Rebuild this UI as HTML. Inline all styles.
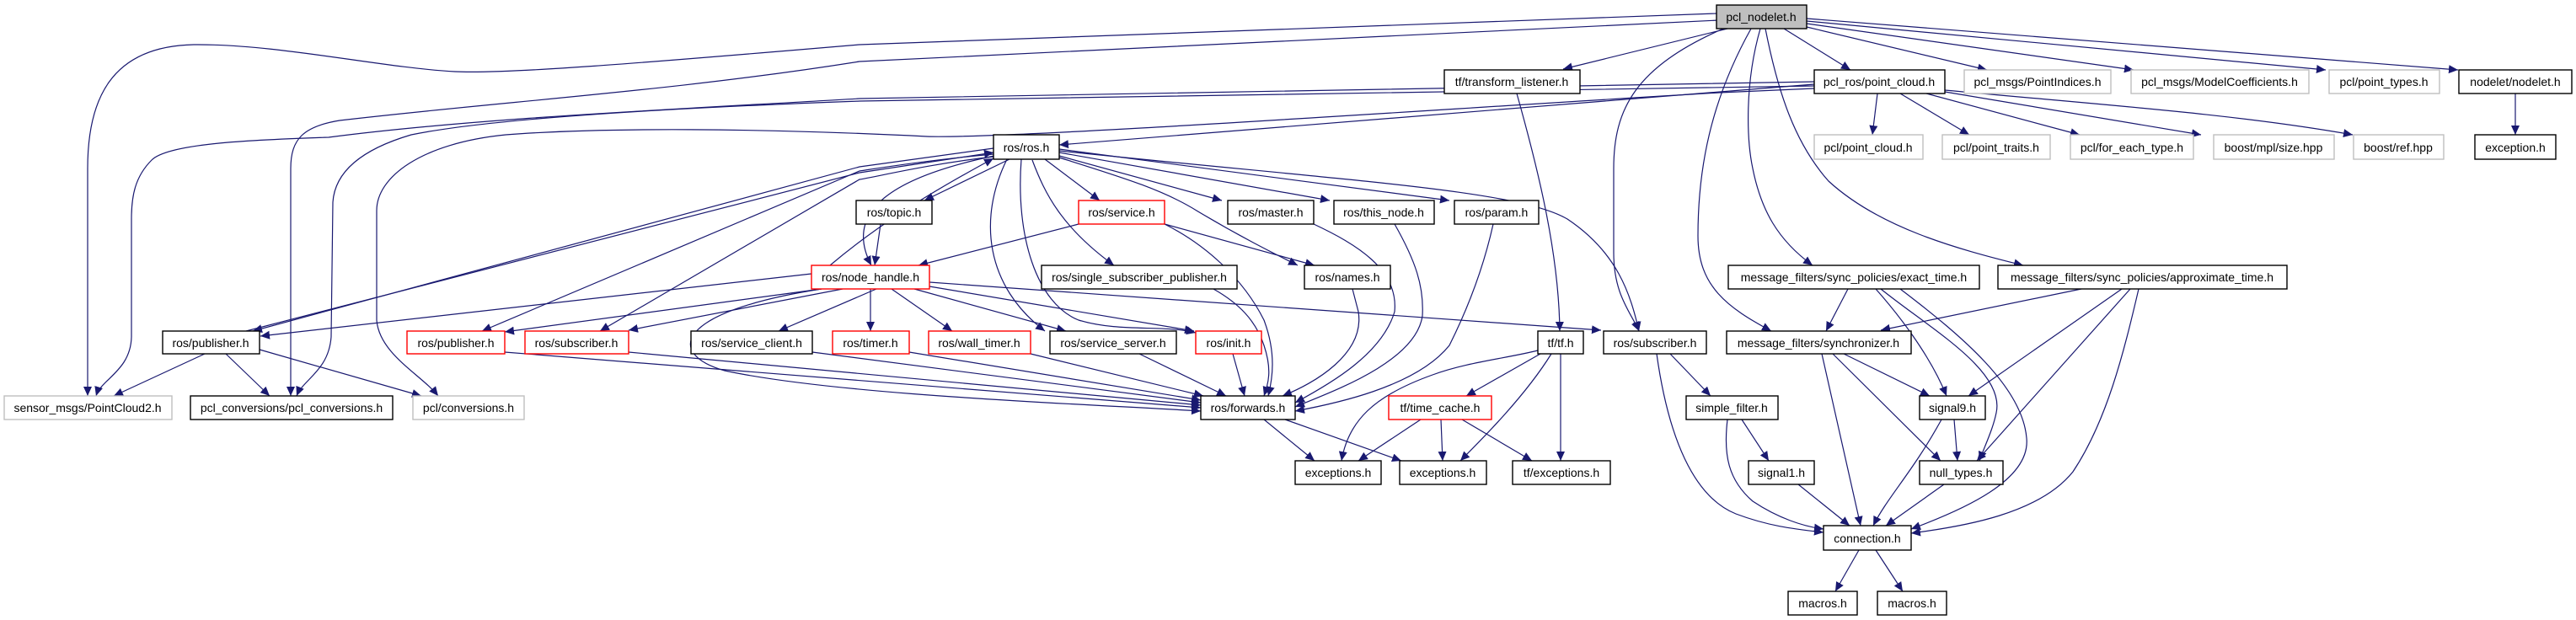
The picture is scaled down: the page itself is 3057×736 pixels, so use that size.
<!DOCTYPE html>
<html><head><meta charset="utf-8"><style>
html,body{margin:0;padding:0;background:#fff;}
svg{display:block;}
text{font-family:"Liberation Sans",sans-serif;font-size:14px;text-anchor:middle;fill:#000;}
.n{fill:#fff;stroke:#000;stroke-width:1.4;}
.g{fill:#fff;stroke:#bfbfbf;stroke-width:1.4;}
.r{fill:#fff;stroke:#ff0000;stroke-width:1.4;}
.e{fill:none;stroke:#191970;stroke-width:1.2;marker-end:url(#a);}
</style></head><body>
<svg width="3057" height="736" viewBox="0 0 3057 736" xmlns="http://www.w3.org/2000/svg">
<defs><marker id="a" markerUnits="userSpaceOnUse" markerWidth="12" markerHeight="12" refX="11" refY="5" orient="auto"><path d="M0,0 L11,5 L0,10 z" fill="#191970"/></marker></defs>
<g>
<!-- pcl_nodelet edges -->
<path class="e" d="M2037,16 L1020,53 C760,75 600,88 540,85 C450,80 330,52 230,53 C130,55 104,120 104,200 L104,470"/>
<path class="e" d="M2040,24 L1020,73 C800,108 600,120 403,143 C360,150 345,165 345,200 L345,470"/>
<path class="e" d="M2050,34 L1855,82"/>
<path class="e" d="M2117,34 L2196,83"/>
<path class="e" d="M2144,32 L2358,83"/>
<path class="e" d="M2144,28 L2532,83"/>
<path class="e" d="M2144,25 L2760,83"/>
<path class="e" d="M2144,22 L2917,83"/>
<path class="e" d="M2045,34 C1940,80 1915,130 1915,200 L1915,300 C1915,350 1935,370 1945,393"/>
<path class="e" d="M2078,34 C2030,120 2015,200 2015,280 C2015,340 2050,365 2102,393"/>
<path class="e" d="M2089,34 C2070,100 2073,167 2080,200 C2090,250 2110,285 2151,315"/>
<path class="e" d="M2095,34 C2110,110 2130,170 2170,215 C2230,270 2320,295 2401,315"/>
<!-- pcl_ros/point_cloud -->
<path class="e" d="M2228,111 L2222,160"/>
<path class="e" d="M2255,111 L2337,160"/>
<path class="e" d="M2286,111 L2468,160"/>
<path class="e" d="M2308,109 L2612,160"/>
<path class="e" d="M2308,107 C2500,125 2650,135 2792,160"/>
<path class="e" d="M2153,100 L1257,172"/>
<path class="e" d="M2153,97 L1020,117 C800,130 566,140 390,163 C300,166 200,170 180,190 C160,210 156,233 156,260 L156,400 C155,440 120,450 114,470"/>
<path class="e" d="M2153,102 L1020,120 C800,128 585,140 488,160 C420,180 397,210 395,240 L393,400 C390,440 360,450 352,470"/>
<path class="e" d="M2153,105 L2040,110 C1700,130 1200,165 1100,162 C900,152 716,151 600,160 C500,170 447,210 447,250 L447,380 C450,420 500,445 520,470"/>
<path class="e" d="M2985,111 L2985,160"/>
<path class="e" d="M1800,111 C1825,200 1850,300 1851,393"/>
<!-- ros/ros.h -->
<path class="e" d="M1198,189 L1097,238"/>
<path class="e" d="M1240,189 L1305,238"/>
<path class="e" d="M1257,185 L1450,238"/>
<path class="e" d="M1257,181 L1578,238"/>
<path class="e" d="M1257,177 L1720,238"/>
<path class="e" d="M1257,187 C1330,210 1380,225 1420,250 C1470,280 1510,300 1540,315"/>
<path class="e" d="M1225,190 C1240,230 1260,270 1322,315"/>
<path class="e" d="M1257,179 C1600,215 1800,225 1860,260 C1920,300 1935,350 1945,393"/>
<path class="e" d="M1180,185 C1060,210 1000,250 1034,315"/>
<path class="e" d="M1195,189 C1160,260 1170,340 1240,393"/>
<path class="e" d="M1212,189 C1205,280 1230,360 1280,380 C1330,395 1380,385 1419,395"/>
<path class="e" d="M1179,176 L1020,198 L300,393"/>
<path class="e" d="M292,393 L1020,205 L1179,181"/>
<path class="e" d="M1179,183 C1100,190 1040,200 1020,203 L572,393"/>
<path class="e" d="M1179,186 C1100,195 1040,210 1020,213 L712,393"/>
<path class="e" d="M985,315 C1050,260 1120,220 1179,188"/>
<!-- node_handle -->
<path class="e" d="M963,325 L309,399"/>
<path class="e" d="M975,343 L599,394"/>
<path class="e" d="M1000,343 L746,392"/>
<path class="e" d="M1040,343 L924,393"/>
<path class="e" d="M1033,343 L1033,393"/>
<path class="e" d="M1058,343 L1130,393"/>
<path class="e" d="M1085,343 L1265,393"/>
<path class="e" d="M1103,340 L1417,393"/>
<path class="e" d="M1103,335 L1900,392"/>
<path class="e" d="M975,343 C800,370 790,420 860,440 C1000,470 1300,480 1425,488"/>
<path class="e" d="M1045,266 L1038,315"/>
<path class="e" d="M1280,266 L1090,315"/>
<path class="e" d="M1382,266 L1560,315"/>
<path class="e" d="M1382,266 C1430,290 1475,330 1500,380 C1515,420 1510,450 1505,470"/>
<path class="e" d="M1559,266 C1610,290 1660,320 1655,370 C1640,420 1580,455 1537,478"/>
<path class="e" d="M1655,266 C1680,310 1690,340 1688,375 C1680,430 1580,465 1537,483"/>
<path class="e" d="M1772,266 C1760,320 1740,370 1720,410 C1680,460 1580,480 1537,488"/>
<path class="e" d="M1605,343 L1612,370 C1620,420 1560,455 1522,470"/>
<path class="e" d="M1440,343 C1470,360 1490,380 1500,410 C1510,440 1505,455 1500,470"/>
<!-- lower left -->
<path class="e" d="M243,420 L135,470"/>
<path class="e" d="M268,420 L320,470"/>
<path class="e" d="M308,415 L500,470"/>
<path class="e" d="M599,418 L1425,484"/>
<path class="e" d="M746,418 L1425,481"/>
<path class="e" d="M964,418 L1425,478"/>
<path class="e" d="M1079,418 L1425,475"/>
<path class="e" d="M1223,420 L1428,470"/>
<path class="e" d="M1352,420 L1455,470"/>
<path class="e" d="M1463,420 L1477,470"/>
<path class="e" d="M1500,498 L1560,547"/>
<path class="e" d="M1525,498 L1663,547"/>
<path class="e" d="M1825,416 C1790,425 1740,430 1700,445 C1630,470 1600,500 1592,547"/>
<path class="e" d="M1828,420 L1740,470"/>
<path class="e" d="M1841,420 C1810,470 1760,520 1733,547"/>
<path class="e" d="M1852,420 L1852,547"/>
<path class="e" d="M1686,498 L1612,547"/>
<path class="e" d="M1710,498 L1712,547"/>
<path class="e" d="M1735,498 L1818,547"/>
<!-- right lower -->
<path class="e" d="M1982,420 L2030,470"/>
<path class="e" d="M1966,420 C1980,520 2010,590 2060,610 C2100,625 2130,628 2164,632"/>
<path class="e" d="M2067,498 L2099,547"/>
<path class="e" d="M2050,498 C2045,540 2051,570 2080,595 C2110,615 2140,625 2164,628"/>
<path class="e" d="M2134,575 L2195,624"/>
<path class="e" d="M2193,343 L2167,393"/>
<path class="e" d="M2470,343 L2232,392"/>
<path class="e" d="M2226,343 C2250,370 2290,420 2310,470"/>
<path class="e" d="M2232,343 C2290,390 2380,440 2369,490 C2365,510 2355,530 2349,547"/>
<path class="e" d="M2255,343 C2330,400 2400,460 2405,520 C2410,570 2330,605 2268,628"/>
<path class="e" d="M2518,343 L2336,470"/>
<path class="e" d="M2528,343 L2346,547"/>
<path class="e" d="M2538,343 C2520,420 2500,500 2460,560 C2420,610 2330,625 2268,633"/>
<path class="e" d="M2188,420 L2290,470"/>
<path class="e" d="M2175,420 L2303,547"/>
<path class="e" d="M2162,420 L2208,624"/>
<path class="e" d="M2319,498 L2323,547"/>
<path class="e" d="M2304,498 C2270,560 2240,590 2223,624"/>
<path class="e" d="M2307,575 L2238,624"/>
<path class="e" d="M2206,653 L2178,702"/>
<path class="e" d="M2226,653 L2258,702"/>
</g>
<g>
<rect x="2037" y="6" width="107" height="28" fill="#bfbfbf" stroke="#000" stroke-width="1.4"/><text x="2090" y="25">pcl_nodelet.h</text>
<rect class="n" x="2153" y="83" width="155" height="28"/><text x="2230" y="102">pcl_ros/point_cloud.h</text>
<rect class="g" x="2331" y="83" width="174" height="28"/><text x="2418" y="102">pcl_msgs/PointIndices.h</text>
<rect class="g" x="2529" y="83" width="211" height="28"/><text x="2634" y="102">pcl_msgs/ModelCoefficients.h</text>
<rect class="g" x="2764" y="83" width="131" height="28"/><text x="2829" y="102">pcl/point_types.h</text>
<rect class="n" x="2918" y="83" width="134" height="28"/><text x="2985" y="102">nodelet/nodelet.h</text>
<rect class="n" x="1714" y="83" width="161" height="28"/><text x="1794" y="102">tf/transform_listener.h</text>
<rect class="g" x="2153" y="160" width="129" height="29"/><text x="2217" y="180">pcl/point_cloud.h</text>
<rect class="g" x="2305" y="160" width="128" height="29"/><text x="2369" y="180">pcl/point_traits.h</text>
<rect class="g" x="2457" y="160" width="146" height="29"/><text x="2530" y="180">pcl/for_each_type.h</text>
<rect class="g" x="2627" y="160" width="143" height="29"/><text x="2698" y="180">boost/mpl/size.hpp</text>
<rect class="g" x="2793" y="160" width="107" height="29"/><text x="2846" y="180">boost/ref.hpp</text>
<rect class="n" x="2937" y="160" width="96" height="29"/><text x="2985" y="180">exception.h</text>
<rect class="n" x="1179" y="160" width="78" height="29"/><text x="1218" y="180">ros/ros.h</text>
<rect class="n" x="1016" y="238" width="90" height="28"/><text x="1061" y="257">ros/topic.h</text>
<rect class="r" x="1280" y="238" width="102" height="28"/><text x="1331" y="257">ros/service.h</text>
<rect class="n" x="1457" y="238" width="102" height="28"/><text x="1508" y="257">ros/master.h</text>
<rect class="n" x="1583" y="238" width="119" height="28"/><text x="1642" y="257">ros/this_node.h</text>
<rect class="n" x="1726" y="238" width="100" height="28"/><text x="1776" y="257">ros/param.h</text>
<rect class="n" x="2051" y="315" width="298" height="28"/><text x="2200" y="334">message_filters/sync_policies/exact_time.h</text>
<rect class="n" x="2371" y="315" width="343" height="28"/><text x="2542" y="334">message_filters/sync_policies/approximate_time.h</text>
<rect class="r" x="963" y="315" width="140" height="28"/><text x="1033" y="334">ros/node_handle.h</text>
<rect class="n" x="1236" y="315" width="232" height="28"/><text x="1352" y="334">ros/single_subscriber_publisher.h</text>
<rect class="n" x="1548" y="315" width="102" height="28"/><text x="1599" y="334">ros/names.h</text>
<rect class="n" x="193" y="393" width="115" height="27"/><text x="250" y="412">ros/publisher.h</text>
<rect class="r" x="483" y="393" width="116" height="27"/><text x="541" y="412">ros/publisher.h</text>
<rect class="r" x="623" y="393" width="123" height="27"/><text x="684" y="412">ros/subscriber.h</text>
<rect class="n" x="820" y="393" width="144" height="27"/><text x="892" y="412">ros/service_client.h</text>
<rect class="r" x="988" y="393" width="91" height="27"/><text x="1033" y="412">ros/timer.h</text>
<rect class="r" x="1102" y="393" width="121" height="27"/><text x="1162" y="412">ros/wall_timer.h</text>
<rect class="n" x="1246" y="393" width="150" height="27"/><text x="1321" y="412">ros/service_server.h</text>
<rect class="r" x="1419" y="393" width="78" height="27"/><text x="1458" y="412">ros/init.h</text>
<rect class="n" x="1825" y="393" width="54" height="27"/><text x="1852" y="412">tf/tf.h</text>
<rect class="n" x="1903" y="393" width="122" height="27"/><text x="1964" y="412">ros/subscriber.h</text>
<rect class="n" x="2049" y="393" width="219" height="27"/><text x="2158" y="412">message_filters/synchronizer.h</text>
<rect class="g" x="5" y="470" width="199" height="28"/><text x="104" y="489">sensor_msgs/PointCloud2.h</text>
<rect class="n" x="226" y="470" width="240" height="28"/><text x="346" y="489">pcl_conversions/pcl_conversions.h</text>
<rect class="g" x="490" y="470" width="132" height="28"/><text x="556" y="489">pcl/conversions.h</text>
<rect class="n" x="1425" y="470" width="112" height="28"/><text x="1481" y="489">ros/forwards.h</text>
<rect class="r" x="1648" y="470" width="122" height="28"/><text x="1709" y="489">tf/time_cache.h</text>
<rect class="n" x="2001" y="470" width="109" height="28"/><text x="2055" y="489">simple_filter.h</text>
<rect class="n" x="2278" y="470" width="78" height="28"/><text x="2317" y="489">signal9.h</text>
<rect class="n" x="1537" y="547" width="102" height="28"/><text x="1588" y="566">exceptions.h</text>
<rect class="n" x="1661" y="547" width="103" height="28"/><text x="1712" y="566">exceptions.h</text>
<rect class="n" x="1795" y="547" width="116" height="28"/><text x="1853" y="566">tf/exceptions.h</text>
<rect class="n" x="2075" y="547" width="78" height="28"/><text x="2114" y="566">signal1.h</text>
<rect class="n" x="2278" y="547" width="99" height="28"/><text x="2327" y="566">null_types.h</text>
<rect class="n" x="2164" y="624" width="104" height="29"/><text x="2216" y="644">connection.h</text>
<rect class="n" x="2122" y="702" width="82" height="28"/><text x="2163" y="721">macros.h</text>
<rect class="n" x="2228" y="702" width="82" height="28"/><text x="2269" y="721">macros.h</text>
</g>
</svg>
</body></html>
